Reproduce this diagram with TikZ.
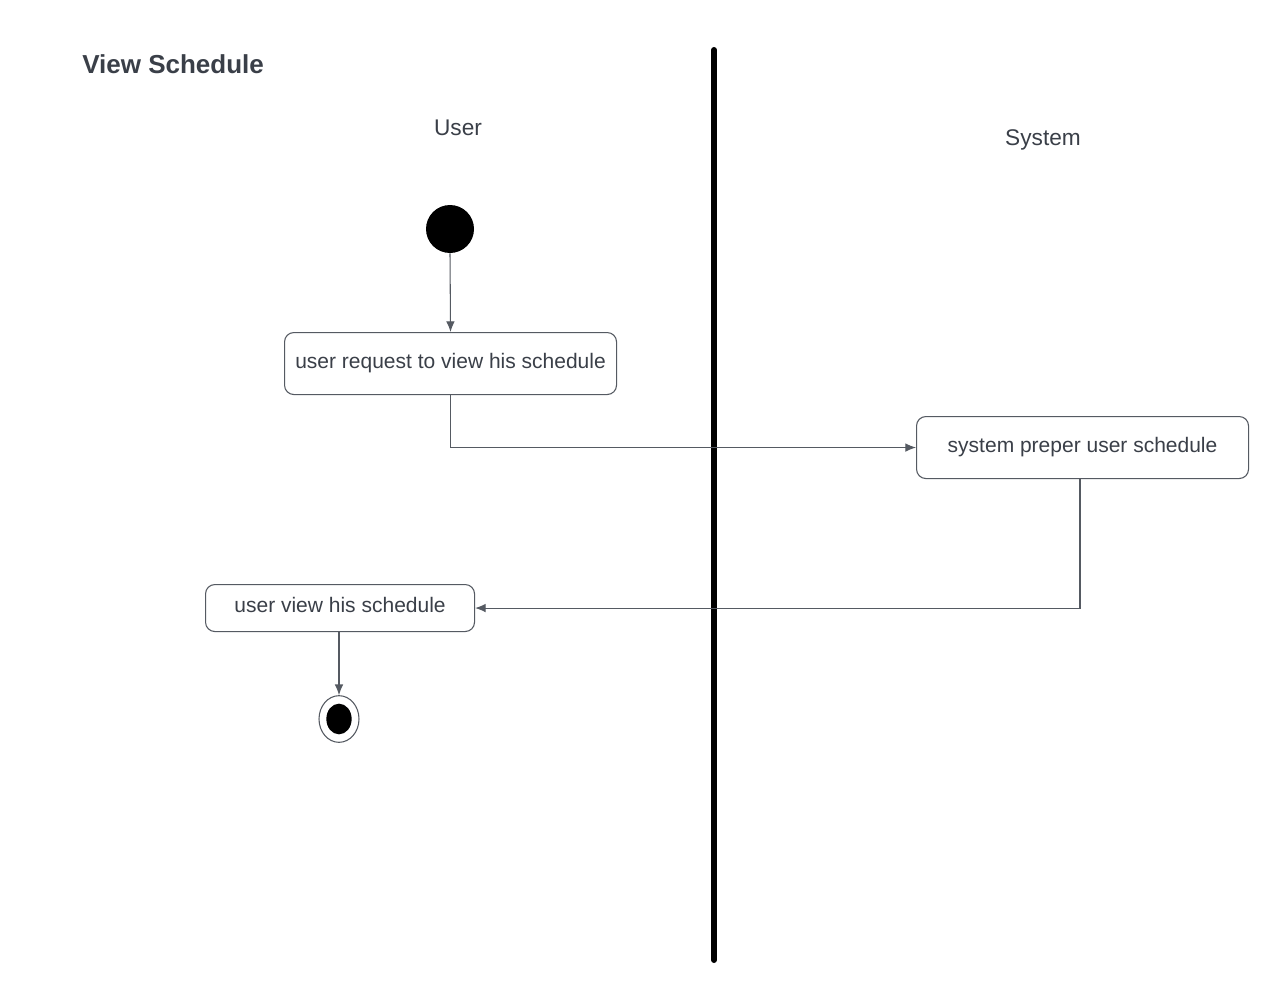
\documentclass[tikz,border=0pt]{standalone}
\usepackage{fontspec}
\setmainfont{Liberation Sans}
\usetikzlibrary{arrows.meta,shapes.geometric}
\definecolor{txt}{HTML}{3A3F48}
\definecolor{ln}{HTML}{555A62}
\begin{document}
\begin{tikzpicture}[x=0.75pt,y=-0.75pt,
  act/.style={draw=ln,line width=0.8pt,rounded corners=7pt,text=txt,font=\fontsize{15.75}{18}\selectfont,inner sep=0pt,anchor=north west},
  actlbl/.style={text=txt,font=\fontsize{15.75}{18}\selectfont},
  flow/.style={draw=ln,line width=0.8pt,-{Latex[length=8pt,width=6.5pt]}},
  lbl/.style={text=txt,font=\fontsize{17}{20}\selectfont}]
\useasboundingbox[fill=white] (0,0) rectangle (1280,995);
\node[text=txt,font=\bfseries\fontsize{19.5}{22}\selectfont,anchor=west,inner sep=0pt] (title) at (82,64) {View Schedule};
\node[lbl] (user) at (458,128) {User};
\node[lbl] (system) at (1043,140) {System};
\coordinate (lt) at (714,50);
\coordinate (lb) at (714,960);
\draw[line width=4.5pt,line cap=round] (lt) -- (lb);
\node[circle,fill=black,minimum size=36pt,inner sep=0pt] (start) at (450,229) {};
\node[act,minimum width=249pt,minimum height=46.5pt] (a1) at (284,332) {};
\node[actlbl] at ([yshift=0.5pt]a1.center) {user request to view his schedule};
\node[act,minimum width=249pt,minimum height=46.5pt] (a2) at (916,416) {};
\node[actlbl] at ([yshift=0.5pt]a2.center) {system preper user schedule};
\node[act,minimum width=201.75pt,minimum height=35.25pt] (a3) at (205,584) {};
\node[actlbl] at ([yshift=2pt]a3.center) {user view his schedule};
\node[ellipse,draw=ln,line width=0.8pt,minimum width=30pt,minimum height=35pt,inner sep=0pt] (end) at (339,719) {};
\node[ellipse,fill=black,minimum width=19pt,minimum height=23pt,inner sep=0pt] (endin) at (end.center) {};
\draw[flow] (start.south) -- (a1.north);
\draw[flow] (a1.south) |- (a2.west);
\draw[flow] (a2.south -| 1080,0) |- (a3.east);
\draw[flow] (a3.south -| end.north) -- (end.north);
\end{tikzpicture}
\end{document}
